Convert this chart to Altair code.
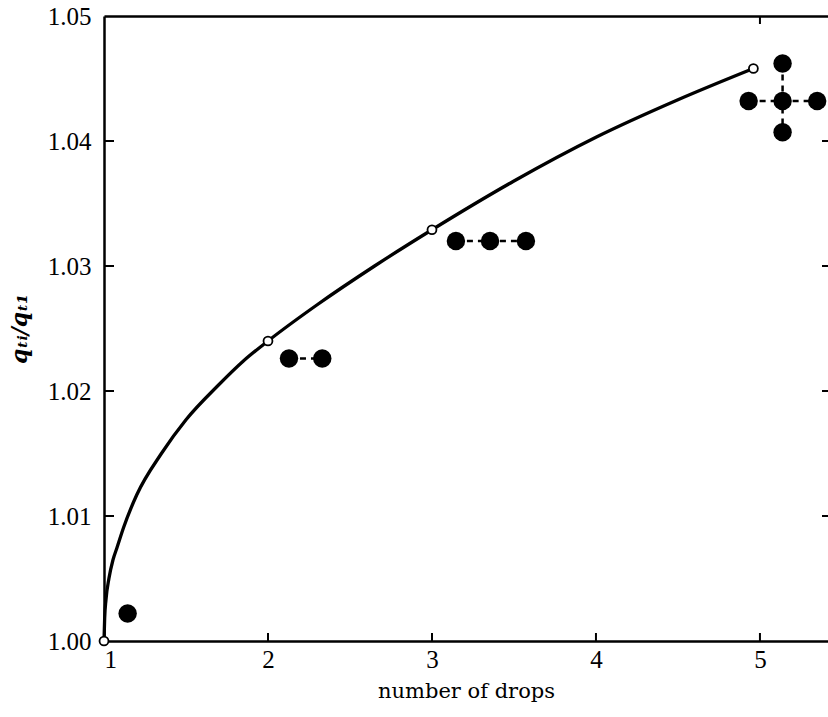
import altair as alt
import pandas as pd

# smooth curve
curve_x = [1.0, 1.004, 1.012, 1.03, 1.055, 1.08, 1.12, 1.2, 1.35, 1.5, 1.7, 1.85, 2.0,
           2.3, 2.65, 3.0, 3.5, 4.0, 4.5, 4.96]
curve_y = [1.0, 1.0018, 1.0033, 1.0050, 1.0065, 1.0075, 1.0091, 1.0117, 1.0150, 1.0177,
           1.0205, 1.0224, 1.0240, 1.0269, 1.0300, 1.0329, 1.0368, 1.0403, 1.0433, 1.0458]

# open circles on the curve
open_x = [1.0, 2.0, 3.0, 4.96]
open_y = [1.000, 1.0240, 1.0329, 1.0458]

# filled circles
fill_x = [1.144, 2.128, 2.331, 3.146, 3.354, 3.573, 4.931, 5.138, 5.349, 5.138, 5.138]
fill_y = [1.0022, 1.0226, 1.0226, 1.0320, 1.0320, 1.0320, 1.0432, 1.0432, 1.0432, 1.0462, 1.0407]

# dashed connectors: group id and order
dash_group = ["b", "b", "c", "c", "c", "dh", "dh", "dh", "dv", "dv", "dv"]
dash_x = [2.128, 2.331, 3.146, 3.354, 3.573, 4.931, 5.138, 5.349, 5.138, 5.138, 5.138]
dash_y = [1.0226, 1.0226, 1.0320, 1.0320, 1.0320, 1.0432, 1.0432, 1.0432, 1.0462, 1.0432, 1.0407]

x_ticks = [2, 3, 4, 5]
x_top_ticks = [5]
y_ticks = [1.01, 1.02, 1.03, 1.04]
x_labels = [1, 2, 3, 4, 5]
y_labels = [1.00, 1.01, 1.02, 1.03, 1.04, 1.05]

W, H = 724, 625
XDOM = [1, 5.415]
YDOM = [1.0, 1.05]
FONT = "Liberation Serif"

xs = alt.Scale(domain=XDOM, nice=False, zero=False)
ys = alt.Scale(domain=YDOM, nice=False, zero=False)

curve_df = pd.DataFrame({"x": curve_x, "y": curve_y})
open_df = pd.DataFrame({"x": open_x, "y": open_y})
fill_df = pd.DataFrame({"x": fill_x, "y": fill_y})
dash_df = pd.DataFrame({"g": dash_group, "x": dash_x, "y": dash_y,
                        "o": list(range(len(dash_x)))})

x_axis = alt.Axis(values=x_labels, format="d", ticks=False, grid=False,
                  domainColor="black", domainWidth=2.5,
                  labelFont=FONT, labelFontSize=25, labelColor="black", labelPadding=6,
                  title="number of drops", titleFont="DejaVu Serif", titleFontSize=21,
                  titleFontWeight="normal", titleColor="black", titlePadding=8)
y_axis = alt.Axis(values=y_labels, format=".2f", ticks=False, grid=False,
                  domainColor="black", domainWidth=2.5,
                  labelFont=FONT, labelFontSize=25, labelColor="black", labelPadding=13,
                  title="qₜᵢ/qₜ₁", titleFont="DejaVu Serif", titleFontSize=22,
                  titleFontWeight="bold", titleFontStyle="italic", titleColor="black",
                  titlePadding=16)

curve = alt.Chart(curve_df).mark_line(color="black", strokeWidth=3.3,
                                       interpolate="monotone").encode(
    x=alt.X("x:Q", scale=xs, axis=x_axis),
    y=alt.Y("y:Q", scale=ys, axis=y_axis),
)

# top frame via a top-oriented axis with no labels
top_frame = alt.Chart(open_df).mark_point(opacity=0).encode(
    x=alt.X("x:Q", scale=xs, axis=alt.Axis(orient="top", labels=False, ticks=False,
                                            grid=False, title=None, domainColor="black",
                                            domainWidth=2.5)),
    y=alt.Y("y:Q", scale=ys, axis=None),
)

dashes = alt.Chart(dash_df).mark_line(color="black", strokeWidth=2.5,
                                       strokeDash=[6, 5]).encode(
    x=alt.X("x:Q", scale=xs, axis=None),
    y=alt.Y("y:Q", scale=ys, axis=None),
    detail="g:N",
    order="o:Q",
)

filled = alt.Chart(fill_df).mark_point(filled=True, color="black", size=340,
                                        opacity=1).encode(
    x=alt.X("x:Q", scale=xs, axis=None),
    y=alt.Y("y:Q", scale=ys, axis=None),
)

opens = alt.Chart(open_df).mark_point(filled=True, fill="white", stroke="black",
                                       strokeWidth=1.8, size=80, opacity=1).encode(
    x=alt.X("x:Q", scale=xs, axis=None),
    y=alt.Y("y:Q", scale=ys, axis=None),
)

xt_df = pd.DataFrame({"x": x_ticks})
xtt_df = pd.DataFrame({"x": x_top_ticks})
yt_df = pd.DataFrame({"y": y_ticks})

bottom_ticks = alt.Chart(xt_df).mark_rule(color="black", strokeWidth=2).encode(
    x=alt.X("x:Q", scale=xs, axis=None), y=alt.value(H), y2=alt.value(H - 8))
top_ticks = alt.Chart(xtt_df).mark_rule(color="black", strokeWidth=2).encode(
    x=alt.X("x:Q", scale=xs, axis=None), y=alt.value(0), y2=alt.value(8))
left_ticks = alt.Chart(yt_df).mark_rule(color="black", strokeWidth=2).encode(
    y=alt.Y("y:Q", scale=ys, axis=None), x=alt.value(0), x2=alt.value(10))
right_ticks = alt.Chart(yt_df).mark_rule(color="black", strokeWidth=2).encode(
    y=alt.Y("y:Q", scale=ys, axis=None), x=alt.value(W - 6), x2=alt.value(W))

chart = alt.layer(
    curve, top_frame, dashes, filled, opens,
    bottom_ticks, top_ticks, left_ticks, right_ticks,
).resolve_axis(x="independent", y="independent").properties(
    width=W, height=H,
    autosize=alt.AutoSizeParams(type="none"),
    padding={"left": 104, "top": 16, "right": 0, "bottom": 70},
).configure_view(stroke=None).configure(background="white")

chart.save("out.html", embed_options={"renderer": "svg", "actions": False})
